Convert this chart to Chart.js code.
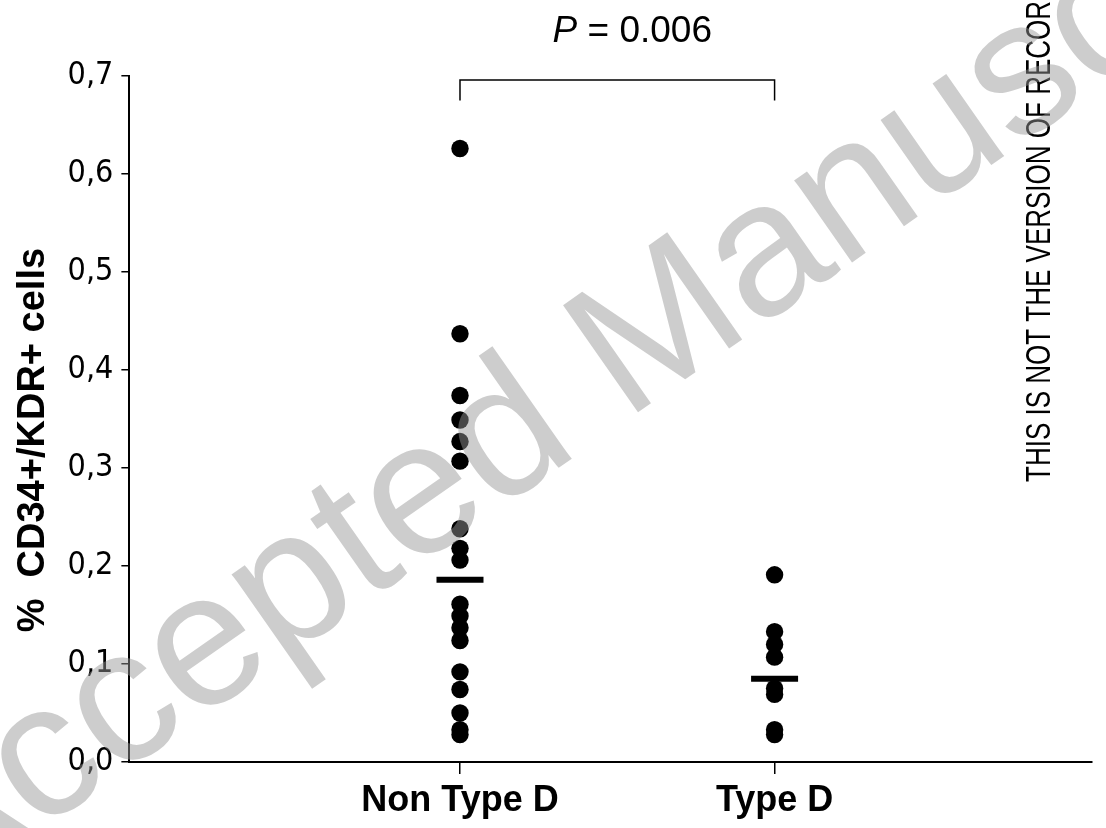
<!DOCTYPE html>
<html>
<head>
<meta charset="utf-8">
<script src="https://cdn.jsdelivr.net/npm/chart.js@4.4.1/dist/chart.umd.min.js"></script>
<style>
  body { margin: 0; background: #fff; }
</style>
</head>
<body>
<canvas id="myChart" width="1106" height="828"></canvas>
<script>
// Dados
const categorias = ['Non Type D', 'Type D'];
const posCategorias = [1, 2];
const nonTypeD = [0.626, 0.437, 0.374, 0.349, 0.327, 0.307, 0.238, 0.218, 0.206,
                  0.161, 0.149, 0.137, 0.124, 0.092, 0.074, 0.050, 0.033, 0.028];
const typeD = [0.191, 0.133, 0.120, 0.107, 0.075, 0.069, 0.033, 0.028];
const medias = [0.186, 0.085];
const yTickValores = [0, 0.1, 0.2, 0.3, 0.4, 0.5, 0.6, 0.7];
const yTickTextos = ['0,0', '0,1', '0,2', '0,3', '0,4', '0,5', '0,6', '0,7'];
const chave = [0.675, 0.696];
const textoP = ['P', ' = 0.006'];

const FONTE = '"Liberation Sans", Arial, Helvetica, sans-serif';

// Texto do P e marca d'agua
const pluginTextos = {
    id: 'textos',
    afterDraw(chart) {
        const ctx = chart.ctx;
        const x = chart.scales.x;
        const meio = (x.getPixelForValue(posCategorias[0]) + x.getPixelForValue(posCategorias[1])) / 2 + 15;

        ctx.save();
        ctx.fillStyle = '#000';
        ctx.textBaseline = 'alphabetic';
        ctx.font = 'italic 37px ' + FONTE;
        const w1 = ctx.measureText(textoP[0]).width;
        ctx.font = '37px ' + FONTE;
        const w2 = ctx.measureText(textoP[1]).width;
        const inicio = meio - (w1 + w2) / 2;
        ctx.font = 'italic 37px ' + FONTE;
        ctx.fillText(textoP[0], inicio, 42);
        ctx.font = '37px ' + FONTE;
        ctx.fillText(textoP[1], inicio + w1, 42);
        ctx.restore();

        // texto vertical
        ctx.save();
        ctx.fillStyle = '#000';
        ctx.translate(1050, 482);
        ctx.rotate(-Math.PI / 2);
        ctx.scale(1, 1.34);
        ctx.font = '26px ' + FONTE;
        ctx.textBaseline = 'alphabetic';
        ctx.fillText('THIS IS NOT THE VERSION OF RECORD', 0, 0);
        ctx.restore();

        // marca d'agua
        ctx.save();
        ctx.fillStyle = 'rgba(150,150,150,0.48)';
        ctx.font = '190px ' + FONTE;
        ctx.translate(-67, 906);
        ctx.rotate(-35 * Math.PI / 180);
        ctx.fillText('Accepted Manuscript', 0, 0);
        ctx.restore();
    }
};

function desenharGrafico() {
    const ctx = document.getElementById('myChart');

    new Chart(ctx, {
        type: 'scatter',
        data: {
            datasets: [
                {
                    label: categorias[0],
                    data: nonTypeD.map(v => ({ x: posCategorias[0], y: v })),
                    backgroundColor: '#000',
                    borderWidth: 0,
                    pointRadius: 8.7
                },
                {
                    label: categorias[1],
                    data: typeD.map(v => ({ x: posCategorias[1], y: v })),
                    backgroundColor: '#000',
                    borderWidth: 0,
                    pointRadius: 8.7
                },
                {
                    label: 'media',
                    data: medias.map((v, i) => ({ x: posCategorias[i], y: v })),
                    pointStyle: 'line',
                    pointRadius: 23.5,
                    borderColor: '#000',
                    borderWidth: 6
                },
                {
                    type: 'line',
                    label: 'chave',
                    data: [
                        { x: posCategorias[0], y: chave[0] },
                        { x: posCategorias[0], y: chave[1] },
                        { x: posCategorias[1], y: chave[1] },
                        { x: posCategorias[1], y: chave[0] }
                    ],
                    borderColor: '#000',
                    borderWidth: 1.5,
                    pointRadius: 0,
                    fill: false,
                    tension: 0
                }
            ]
        },
        options: {
            responsive: false,
            animation: false,
            layout: { autoPadding: false, padding: { top: 76, right: 14, bottom: 0, left: 11 } },
            plugins: {
                legend: { display: false },
                tooltip: { enabled: false }
            },
            scales: {
                x: {
                    type: 'linear',
                    min: -0.051,
                    max: 3.009,
                    afterBuildTicks: s => { s.ticks = posCategorias.map(v => ({ value: v })); },
                    ticks: {
                        callback: (v) => categorias[posCategorias.indexOf(v)],
                        color: '#000',
                        padding: 9,
                        maxRotation: 0,
                        autoSkip: false,
                        font: { family: FONTE, size: 36, weight: 'bold', lineHeight: 1.0 }
                    },
                    grid: { drawOnChartArea: false, drawTicks: true, tickLength: 12, color: '#000', lineWidth: 1.5 },
                    border: { display: true, color: '#000', width: 2 }
                },
                y: {
                    min: 0,
                    max: 0.7,
                    afterBuildTicks: s => { s.ticks = yTickValores.map(v => ({ value: v })); },
                    ticks: {
                        callback: (v, i) => yTickTextos[i],
                        color: '#000',
                        padding: 8,
                        font: { family: '"DejaVu Sans Condensed", "DejaVu Sans", Verdana, sans-serif', size: 32 }
                    },
                    grid: { drawOnChartArea: false, drawTicks: true, tickLength: 8, color: '#000', lineWidth: 1.5 },
                    border: { display: true, color: '#000', width: 2 },
                    title: {
                        display: true,
                        text: '%  CD34+/KDR+ cells    ',
                        color: '#000',
                        padding: { top: 0, bottom: 3 },
                        font: { family: FONTE, size: 38, weight: 'bold' }
                    }
                }
            }
        },
        plugins: [pluginTextos]
    });
}

desenharGrafico();
</script>
</body>
</html>
